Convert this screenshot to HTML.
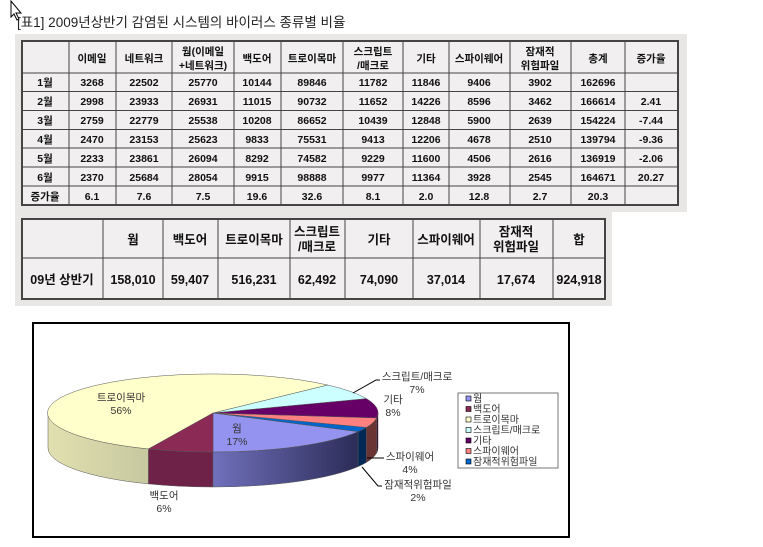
<!DOCTYPE html>
<html><head><meta charset="utf-8"><style>
html,body{margin:0;padding:0;background:#fff;width:763px;height:547px;overflow:hidden}
svg text{font-family:"Liberation Sans","Noto Sans CJK KR",sans-serif}
.t text{font-size:10.5px;font-weight:bold;fill:#111;text-anchor:middle}
.b text{font-size:12.5px;font-weight:bold;fill:#111;text-anchor:middle}
.c text{font-size:10.5px;fill:#333}
.l text{font-size:10px;fill:#333}
</style></head><body>
<svg width="763" height="547" xmlns="http://www.w3.org/2000/svg">
<path d="M11,1 L11,17 L14,14 L17,20 L19,19 L16,13 L21,13 Z" fill="#fff" stroke="#000" stroke-width="1"/>
<text x="17" y="27" font-size="13.5" fill="#222">[표1] 2009년상반기 감염된 시스템의 바이러스 종류별 비율</text>

<rect x="15" y="34" width="672" height="178" fill="#e9e6e6"/>
<g stroke="#444" stroke-width="1" fill="none">
<rect x="22" y="41" width="656" height="164" stroke-width="2" fill="#f1efef"/>
<path d="M69,41V205M116,41V205M172,41V205M234,41V205M281,41V205M343,41V205M403,41V205M449,41V205M510,41V205M571,41V205M625,41V205"/>
<path d="M22,73H678M22,91.5H678M22,110.5H678M22,129.5H678M22,148H678M22,167H678M22,186H678"/>
</g>
<g class="t">
<text x="92" y="62">이메일</text><text x="144" y="62">네트워크</text>
<text x="203" y="55">웜(이메일</text><text x="203" y="69">+네트워크)</text>
<text x="257" y="62">백도어</text><text x="312" y="62">트로이목마</text>
<text x="373" y="55">스크립트</text><text x="373" y="69">/매크로</text>
<text x="426" y="62">기타</text><text x="479" y="62">스파이웨어</text>
<text x="540" y="55">잠재적</text><text x="540" y="69">위험파일</text>
<text x="598" y="62">총계</text><text x="651" y="62">증가율</text>
</g>
<g class="t">
<text x="45" y="86">1월</text><text x="92" y="86">3268</text><text x="144" y="86">22502</text><text x="203" y="86">25770</text><text x="257" y="86">10144</text><text x="312" y="86">89846</text><text x="373" y="86">11782</text><text x="426" y="86">11846</text><text x="479" y="86">9406</text><text x="540" y="86">3902</text><text x="598" y="86">162696</text>
<text x="45" y="105">2월</text><text x="92" y="105">2998</text><text x="144" y="105">23933</text><text x="203" y="105">26931</text><text x="257" y="105">11015</text><text x="312" y="105">90732</text><text x="373" y="105">11652</text><text x="426" y="105">14226</text><text x="479" y="105">8596</text><text x="540" y="105">3462</text><text x="598" y="105">166614</text><text x="651" y="105">2.41</text>
<text x="45" y="124">3월</text><text x="92" y="124">2759</text><text x="144" y="124">22779</text><text x="203" y="124">25538</text><text x="257" y="124">10208</text><text x="312" y="124">86652</text><text x="373" y="124">10439</text><text x="426" y="124">12848</text><text x="479" y="124">5900</text><text x="540" y="124">2639</text><text x="598" y="124">154224</text><text x="651" y="124">-7.44</text>
<text x="45" y="143">4월</text><text x="92" y="143">2470</text><text x="144" y="143">23153</text><text x="203" y="143">25623</text><text x="257" y="143">9833</text><text x="312" y="143">75531</text><text x="373" y="143">9413</text><text x="426" y="143">12206</text><text x="479" y="143">4678</text><text x="540" y="143">2510</text><text x="598" y="143">139794</text><text x="651" y="143">-9.36</text>
<text x="45" y="162">5월</text><text x="92" y="162">2233</text><text x="144" y="162">23861</text><text x="203" y="162">26094</text><text x="257" y="162">8292</text><text x="312" y="162">74582</text><text x="373" y="162">9229</text><text x="426" y="162">11600</text><text x="479" y="162">4506</text><text x="540" y="162">2616</text><text x="598" y="162">136919</text><text x="651" y="162">-2.06</text>
<text x="45" y="181">6월</text><text x="92" y="181">2370</text><text x="144" y="181">25684</text><text x="203" y="181">28054</text><text x="257" y="181">9915</text><text x="312" y="181">98888</text><text x="373" y="181">9977</text><text x="426" y="181">11364</text><text x="479" y="181">3928</text><text x="540" y="181">2545</text><text x="598" y="181">164671</text><text x="651" y="181">20.27</text>
<text x="45" y="200">증가율</text><text x="92" y="200">6.1</text><text x="144" y="200">7.6</text><text x="203" y="200">7.5</text><text x="257" y="200">19.6</text><text x="312" y="200">32.6</text><text x="373" y="200">8.1</text><text x="426" y="200">2.0</text><text x="479" y="200">12.8</text><text x="540" y="200">2.7</text><text x="598" y="200">20.3</text>
</g>

<rect x="15" y="212" width="597" height="94" fill="#e9e6e6"/>
<g stroke="#444" fill="none">
<rect x="22" y="219" width="583" height="80" stroke-width="2" fill="#f1efef"/>
<path d="M103,219V299M163,219V299M218,219V299M290,219V299M345,219V299M413,219V299M480,219V299M553,219V299M22,258H605"/>
</g>
<g class="b">
<text x="133" y="244">웜</text><text x="190" y="244">백도어</text><text x="254" y="244">트로이목마</text>
<text x="317" y="236">스크립트</text><text x="317" y="251">/매크로</text>
<text x="379" y="244">기타</text><text x="446" y="244">스파이웨어</text>
<text x="516" y="236">잠재적</text><text x="516" y="251">위험파일</text>
<text x="579" y="244">합</text>
<text x="62" y="284">09년 상반기</text><text x="133" y="284">158,010</text><text x="190" y="284">59,407</text><text x="254" y="284">516,231</text><text x="317" y="284">62,492</text><text x="379" y="284">74,090</text><text x="446" y="284">37,014</text><text x="516" y="284">17,674</text><text x="579" y="284">924,918</text>
</g>

<rect x="33" y="323" width="536" height="214" fill="#fff" stroke="#000" stroke-width="2"/>
<defs>
<linearGradient id="gw" x1="0" x2="1"><stop offset="0" stop-color="#7070bc"/><stop offset="1" stop-color="#2c2c58"/></linearGradient>
<linearGradient id="gt" x1="0" x2="1"><stop offset="0" stop-color="#e0e0b0"/><stop offset="1" stop-color="#c8c8a0"/></linearGradient>
</defs>
<g stroke="#555" stroke-width="0.5">
<path d="M48,413 A165,39 0 0 0 148.5,448.9 L148.5,483.9 A165,39 0 0 1 48,448 Z" fill="url(#gt)"/>
<path d="M148.5,448.9 A165,39 0 0 0 213,452 L213,487 A165,39 0 0 1 148.5,483.9 Z" fill="#6e2248"/>
<path d="M213,452 A165,39 0 0 0 358.1,431.6 L358.1,466.6 A165,39 0 0 1 213,487 Z" fill="url(#gw)"/>
<path d="M358.1,431.6 A165,39 0 0 0 366.4,427.4 L366.4,462.4 A165,39 0 0 1 358.1,466.6 Z" fill="#002a55"/>
<path d="M366.4,427.4 A165,39 0 0 0 376.7,417.9 L376.7,452.9 A165,39 0 0 1 366.4,462.4 Z" fill="#6a3434"/>
<path d="M376.7,417.9 A165,39 0 0 0 378,413 L378,448 A165,39 0 0 1 376.7,452.9 Z" fill="#330033"/>
<path d="M213,413 L213,452 A165,39 0 0 0 358.1,431.6 Z" fill="#9494f0"/>
<path d="M213,413 L358.1,431.6 A165,39 0 0 0 366.4,427.4 Z" fill="#0066cc"/>
<path d="M213,413 L366.4,427.4 A165,39 0 0 0 376.7,417.9 Z" fill="#ff8080"/>
<path d="M213,413 L376.7,417.9 A165,39 0 0 0 366.4,398.6 Z" fill="#660066"/>
<path d="M213,413 L366.4,398.6 A165,39 0 0 0 327.6,385 Z" fill="#ccffff"/>
<path d="M213,413 L327.6,385 A165,39 0 1 0 148.5,448.9 Z" fill="#ffffcc"/>
<path d="M213,413 L148.5,448.9 A165,39 0 0 0 213,452 Z" fill="#8b2a55"/>
</g>
<g stroke="#000" stroke-width="1" fill="none">
<path d="M353,393 L376,380 H380"/>
<path d="M367,458 H384"/>
<path d="M362,467 L378,486 H382"/>
</g>
<g class="c" text-anchor="middle">
<text x="121" y="401">트로이목마</text><text x="121" y="414">56%</text>
<text x="417" y="380">스크립트/매크로</text><text x="417" y="393">7%</text>
<text x="393" y="403">기타</text><text x="393" y="416">8%</text>
<text x="237" y="432">웜</text><text x="237" y="445">17%</text>
<text x="410" y="460">스파이웨어</text><text x="410" y="473">4%</text>
<text x="418" y="488">잠재적위험파일</text><text x="418" y="501">2%</text>
<text x="164" y="499">백도어</text><text x="164" y="512">6%</text>
</g>
<rect x="458" y="393" width="100" height="75" fill="#fff" stroke="#777"/>
<g stroke="#000" stroke-width="0.6">
<rect x="466" y="396" width="5" height="5" fill="#9494f0"/>
<rect x="466" y="406.5" width="5" height="5" fill="#8b2a55"/>
<rect x="466" y="417" width="5" height="5" fill="#ffffcc"/>
<rect x="466" y="427.5" width="5" height="5" fill="#ccffff"/>
<rect x="466" y="438" width="5" height="5" fill="#660066"/>
<rect x="466" y="448.5" width="5" height="5" fill="#ff8080"/>
<rect x="466" y="459" width="5" height="5" fill="#0066cc"/>
</g>
<g class="l">
<text x="473" y="402">웜</text><text x="473" y="412.5">백도어</text><text x="473" y="423">트로이목마</text><text x="473" y="433.5">스크립트/매크로</text><text x="473" y="444">기타</text><text x="473" y="454.5">스파이웨어</text><text x="473" y="465">잠재적위험파일</text>
</g>
</svg>
</body></html>
